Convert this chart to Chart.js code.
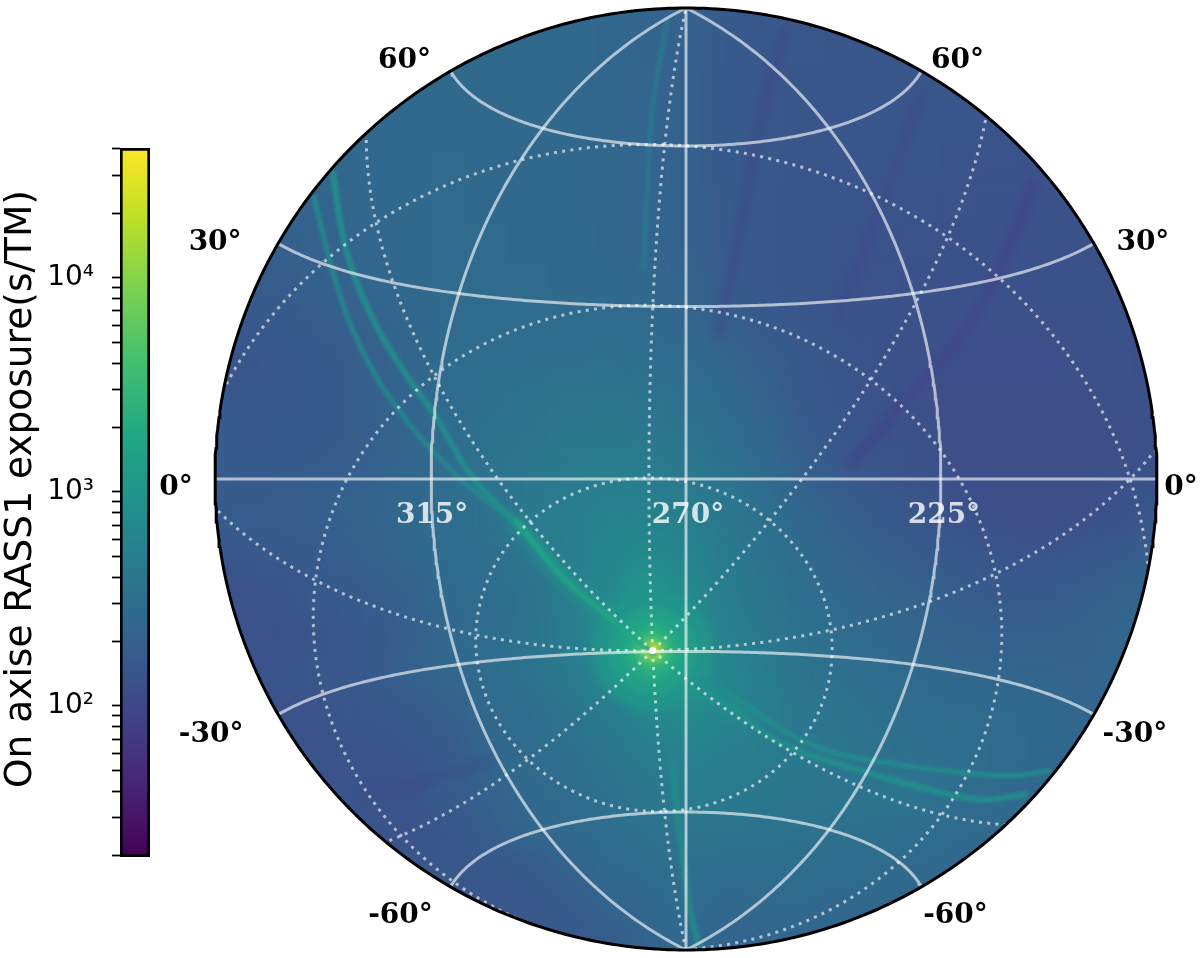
<!DOCTYPE html>
<html>
<head>
<meta charset="utf-8">
<script src="https://cdn.jsdelivr.net/npm/chart.js@4/dist/chart.umd.js"></script>
<style>
  html, body { margin: 0; background: #fff; }
  canvas { position: absolute; left: 0; top: 0; display: block; }
</style>
</head>
<body>
<canvas id="skyMap" width="1200" height="958"></canvas>
<canvas id="colorBar" width="200" height="958"></canvas>
<script>
// colour scale
const viridisStops = ['#440154', '#482475', '#414487', '#355f8d', '#2a788e', '#21918c', '#22a884', '#44bf70', '#7ad151', '#bddf26', '#fde725'];
const exposureMin = 19.7;
const exposureMax = 40400;
const colorBarTicks = [20, 30, 40, 50, 60, 70, 80, 90, 100, 200, 300, 400, 500, 600, 700, 800, 900, 1000, 2000, 3000, 4000, 5000, 6000, 7000, 8000, 9000, 10000, 20000, 30000, 40000];
const colorBarLabels = { 100: '10²', 1000: '10³', 10000: '10⁴' };
const colorBarTitle = 'On axise RASS1 exposure(s/TM)';

// graticule (galactic = solid, ecliptic = dotted), degrees
const galacticLatitudes = [-60, -30, 0, 30, 60];
const galacticLongitudes = [225, 270, 315];
const boundaryLongitudes = [180, 360];
const eclipticLatitudes = [-60, -30, 0];
const eclipticLongitudes = [0, 45, 90, 135, 180, 225, 270, 315];
const southEclipticPole = [276.38, -29.81];
const longitudeLabels = [315, 270, 225];

// exposure (s/TM), 25 x 25 cells, top row first, x and y from -1 to 1
const exposureRows = [
  [265,265,265,265,265,265,265,265,265,265,255,240,210,175,160,155,150,150,150,150,150,150,150,150,150],
  [265,265,265,265,265,265,265,265,265,260,250,235,210,170,158,155,150,150,150,150,150,145,145,145,145],
  [255,255,255,255,255,260,265,265,265,255,245,230,205,170,155,150,150,150,150,150,145,140,140,140,140],
  [245,245,245,250,255,260,265,265,260,255,245,230,205,170,155,150,148,148,148,145,145,140,135,135,135],
  [235,235,235,245,255,265,270,265,260,255,245,230,205,170,155,150,145,145,145,142,138,135,135,135,135],
  [215,215,220,235,255,265,270,265,260,255,245,230,210,175,155,148,145,142,140,135,132,132,132,132,132],
  [195,195,200,220,245,265,275,270,265,260,250,240,215,175,155,147,142,140,135,132,130,130,130,130,130],
  [180,180,190,205,240,265,275,275,270,265,260,245,225,180,155,147,140,135,132,130,130,130,130,130,130],
  [165,165,175,190,215,250,280,290,290,285,280,265,245,200,170,152,140,132,130,128,128,128,128,130,130],
  [150,150,165,175,200,240,285,305,310,320,325,305,280,240,195,160,145,132,128,125,125,125,126,128,130],
  [165,160,165,175,200,235,290,330,350,375,380,365,325,275,220,170,145,135,126,124,124,124,124,126,128],
  [175,165,170,175,200,230,290,350,380,415,435,425,355,305,245,185,150,138,128,124,122,122,122,124,128],
  [180,175,180,190,215,250,300,345,400,460,500,490,430,360,285,215,170,150,135,125,122,122,122,128,140],
  [180,185,195,205,235,265,300,340,420,500,560,570,510,420,330,250,200,170,150,130,122,120,122,130,160],
  [150,155,165,185,215,250,285,320,385,490,620,760,620,440,350,280,230,200,180,160,145,145,155,175,200],
  [135,135,145,165,180,205,260,300,350,470,700,1100,760,480,380,310,260,230,210,190,175,175,190,220,250],
  [135,135,140,155,170,200,255,300,345,450,780,1800,1050,530,410,340,290,260,235,215,205,205,215,240,250],
  [140,140,145,155,170,210,250,290,350,440,650,1150,1150,650,480,360,320,290,260,250,240,240,230,240,240],
  [140,140,140,145,155,170,200,260,300,360,460,640,760,600,480,400,360,330,300,280,270,260,240,230,230],
  [140,140,140,140,138,145,170,240,280,320,380,460,560,520,470,420,380,340,320,300,280,260,250,230,230],
  [140,140,140,140,140,140,180,210,260,280,340,400,470,460,420,400,380,380,370,300,270,250,230,230,230],
  [140,140,140,140,140,140,150,190,240,260,290,340,370,370,360,350,330,320,300,280,260,240,230,230,230],
  [150,150,150,150,150,150,160,160,170,220,260,280,320,290,300,300,290,280,260,250,240,230,230,230,230],
  [150,150,150,150,150,150,150,150,150,170,220,250,290,250,260,260,250,240,240,240,240,240,240,240,240],
  [170,170,170,170,170,170,170,170,170,170,170,220,270,220,230,240,240,240,240,240,240,240,240,240,240]
];

// core around the pole
const peakExposure = [1000, 1400, 2000, 3000, 5000, 10000, 20000, 40000];
const peakSizes = [60, 44, 30, 20, 13, 9, 6, 4];

// thin scan arcs, map units
const arcLeftOuter = [[-0.79,0.60],[-0.75,0.44],[-0.70,0.30],[-0.62,0.16],[-0.49,0.01],[-0.37,-0.09],[-0.27,-0.20]];
const arcLeftInner = [[-0.75,0.65],[-0.72,0.48],[-0.66,0.33],[-0.60,0.23],[-0.53,0.13],[-0.45,0.00],[-0.33,-0.12],[-0.18,-0.28]];
const arcNearPole = [[-0.36,-0.09],[-0.27,-0.20],[-0.18,-0.28],[-0.07,-0.37]];
const arcPoleRight = [[-0.07,-0.37],[0.03,-0.45],[0.13,-0.51]];
const arcRightUpper = [[0.03,-0.42],[0.13,-0.48],[0.20,-0.53],[0.31,-0.58],[0.41,-0.60],[0.55,-0.62],[0.69,-0.63],[0.77,-0.62]];
const arcRightLower = [[0.03,-0.44],[0.09,-0.48],[0.20,-0.56],[0.34,-0.61],[0.48,-0.65],[0.62,-0.68],[0.72,-0.67]];
const arcTop = [[-0.04,0.97],[-0.07,0.80],[-0.08,0.66],[-0.09,0.45]];
const arcTopFaint = [[-0.09,0.45],[-0.10,0.31],[-0.11,0.15]];
const arcBottom = [[-0.03,-0.60],[-0.01,-0.78],[0.01,-0.92],[0.03,-1.0]];
const darkStreak1 = [[0.21,0.95],[0.16,0.77],[0.12,0.56],[0.07,0.31]];
const darkStreak2 = [[0.74,0.63],[0.68,0.48],[0.59,0.31],[0.45,0.15],[0.35,0.03]];
const darkStreak3 = [[0.50,0.82],[0.44,0.65],[0.38,0.49],[0.32,0.34]];
const darkStreak4 = [[-0.68,-0.67],[-0.55,-0.64],[-0.42,-0.60]];

function viridis(value, alpha) {
  const t = Math.min(1, Math.max(0, (Math.log10(value) - Math.log10(exposureMin)) / (Math.log10(exposureMax) - Math.log10(exposureMin))));
  const p = t * (viridisStops.length - 1);
  const i = Math.min(viridisStops.length - 2, Math.floor(p));
  const a = viridisStops[i], b = viridisStops[i + 1];
  const mix = k => {
    const ca = parseInt(a.substr(k, 2), 16), cb = parseInt(b.substr(k, 2), 16);
    return Math.round(ca + (cb - ca) * (p - i));
  };
  return `rgba(${mix(1)},${mix(3)},${mix(5)},${alpha === undefined ? 1 : alpha})`;
}

// Lambert equal-area hemisphere centred on l=270, b=0, rim at radius 1
function vec(lon, lat) {
  const l = lon * Math.PI / 180, b = lat * Math.PI / 180;
  return [Math.cos(b) * Math.cos(l), Math.cos(b) * Math.sin(l), Math.sin(b)];
}
function projectVec(v) {
  const cz = -v[1];
  if (cz < -0.0001) return { x: NaN, y: NaN };
  const k = 1 / Math.sqrt(1 + cz);
  return { x: -v[0] * k, y: v[2] * k };
}
function project(lon, lat) {
  return projectVec(vec(lon, lat));
}

// ecliptic frame: north pole opposite the SEP, north galactic pole at ecliptic longitude 180
const nep = vec(southEclipticPole[0] - 180, -southEclipticPole[1]);
const ngp = [0, 0, 1];
const betaNgp = -southEclipticPole[1] * Math.PI / 180;
const eclA = [0, 1, 2].map(i => (nep[i] * Math.sin(betaNgp) - ngp[i]) / Math.cos(betaNgp));
const eclB = [nep[1] * eclA[2] - nep[2] * eclA[1], nep[2] * eclA[0] - nep[0] * eclA[2], nep[0] * eclA[1] - nep[1] * eclA[0]];
function projectEcliptic(lon, lat) {
  const l = lon * Math.PI / 180, b = lat * Math.PI / 180;
  return projectVec([0, 1, 2].map(i => Math.cos(b) * (Math.cos(l) * eclA[i] + Math.sin(l) * eclB[i]) + Math.sin(b) * nep[i]));
}

function sweep(from, to, fn) {
  const pts = [];
  const n = 240;
  for (let i = 0; i <= n; i++) pts.push(fn(from + (to - from) * i / n));
  return pts;
}
const toPoints = arr => arr.map(p => ({ x: p[0], y: p[1] }));

// datasets, in drawing order
const datasets = [];

const heatCells = [];
exposureRows.forEach((row, r) => row.forEach((v, c) => {
  heatCells.push({ x: -1 + c / 12, y: 1 - r / 12, v: v });
}));
datasets.push({
  label: 'exposure',
  data: heatCells,
  pointStyle: 'rect',
  pointRadius: ctx => (ctx.chart.scales.x.getPixelForValue(1 / 12) - ctx.chart.scales.x.getPixelForValue(0)) / 2 * Math.SQRT2 + 1,
  pointBorderWidth: 0,
  pointBackgroundColor: ctx => viridis(ctx.raw.v),
  blurAfter: 14
});

function addArc(label, points, value, width, alpha) {
  datasets.push({
    label: label,
    data: toPoints(points),
    showLine: true,
    tension: 0.4,
    pointRadius: 0,
    borderWidth: width,
    borderCapStyle: 'round',
    borderColor: viridis(value, alpha)
  });
}
addArc('dark1', darkStreak1, 95, 9, 0.6);
addArc('dark2', darkStreak2, 90, 11, 0.7);
addArc('dark3', darkStreak3, 95, 9, 0.5);
addArc('dark4', darkStreak4, 95, 9, 0.35);
addArc('glow near pole', arcNearPole, 1100, 18, 0.5);
addArc('glow pole right', arcPoleRight, 1000, 16, 0.5);
addArc('arc top faint', arcTopFaint, 380, 6, 0.45);
datasets[datasets.length - 1].blurAfter = 3;

const polePoint = project(southEclipticPole[0], southEclipticPole[1]);
datasets.push({
  label: 'pole',
  data: peakExposure.map(v => ({ x: polePoint.x, y: polePoint.y, v: v })),
  pointRadius: peakSizes,
  pointBorderWidth: 0,
  pointBackgroundColor: ctx => viridis(ctx.raw.v),
  blurAfter: 3
});

addArc('arc top', arcTop, 480, 5, 0.7);
addArc('arc bottom', arcBottom, 750, 7, 0.8);
addArc('arc left outer', arcLeftOuter, 720, 5, 0.9);
addArc('arc left inner', arcLeftInner, 850, 6, 0.9);
addArc('arc near pole', arcNearPole, 1800, 6, 0.8);
addArc('arc right upper', arcRightUpper, 800, 5, 0.9);
addArc('arc right lower', arcRightLower, 850, 6, 0.9);
datasets[datasets.length - 1].blurAfter = 1.5;
datasets[datasets.length - 1].maskAfter = true;

function addLine(label, data, color, width, dash) {
  datasets.push({
    label: label,
    data: data,
    showLine: true,
    spanGaps: false,
    pointRadius: 0,
    borderWidth: width,
    borderColor: color,
    borderDash: dash || []
  });
}
const dottedColor = 'rgba(255,255,255,0.62)';
const solidColor = 'rgba(255,255,255,0.62)';
eclipticLatitudes.forEach(b => addLine('ecl lat ' + b, sweep(0, 360, l => projectEcliptic(l, b)), dottedColor, 3, [3, 5.3]));
eclipticLongitudes.forEach(l => addLine('ecl lon ' + l, sweep(-90, 60, b => projectEcliptic(l, b)), dottedColor, 3, [3, 5.3]));
galacticLatitudes.forEach(b => addLine('gal lat ' + b, sweep(180, 360, l => project(l, b)), solidColor, 3));
galacticLongitudes.forEach(l => addLine('gal lon ' + l, sweep(-90, 90, b => project(l, b)), solidColor, 3));
boundaryLongitudes.forEach(l => addLine('rim ' + l, sweep(-90, 90, b => project(l, b)), '#000', 3));
datasets.push({
  label: 'core',
  data: [polePoint],
  pointRadius: 3.5,
  pointBorderWidth: 0,
  pointBackgroundColor: '#fff'
});
datasets.forEach((d, i) => { d.order = datasets.length - i; });

const mapPlugin = {
  id: 'mapPlugin',
  afterDatasetDraw(chart, args) {
    const d = chart.data.datasets[args.index];
    const ctx = chart.ctx;
    if (d.blurAfter) {
      ctx.save();
      ctx.filter = `blur(${d.blurAfter}px)`;
      ctx.drawImage(chart.canvas, 0, 0);
      ctx.restore();
    }
    if (d.maskAfter) {
      const { x, y } = chart.scales;
      const cx = x.getPixelForValue(0), cy = y.getPixelForValue(0);
      const r = x.getPixelForValue(1) - cx;
      ctx.save();
      ctx.fillStyle = '#fff';
      ctx.beginPath();
      ctx.rect(0, 0, chart.width, chart.height);
      ctx.arc(cx, cy, r, 0, Math.PI * 2);
      ctx.fill('evenodd');
      ctx.restore();
    }
  },
  afterDraw(chart) {
    const ctx = chart.ctx;
    const { x, y } = chart.scales;
    const sideLabels = [[60, -46, -10, 36, -10], [30, -63, -1, 49, -1], [0, -39, 9, 24, 9], [-30, -67, 20, 41, 20], [-60, -50, 29, 34, 29]];
    ctx.save();
    ctx.font = 'bold 28px "DejaVu Serif"';
    ctx.textAlign = 'center';
    ctx.textBaseline = 'middle';
    ctx.fillStyle = '#000';
    sideLabels.forEach(s => {
      const left = project(360, s[0]), right = project(180, s[0]);
      ctx.fillText(s[0] + '°', x.getPixelForValue(left.x) + s[1], y.getPixelForValue(left.y) + s[2]);
      ctx.fillText(s[0] + '°', x.getPixelForValue(right.x) + s[3], y.getPixelForValue(right.y) + s[4]);
    });
    ctx.fillStyle = 'rgba(255,255,255,0.8)';
    const lonOffsets = [1, 2, 3];
    longitudeLabels.forEach((l, i) => {
      const p = project(l, 0);
      ctx.fillText(l + '°', x.getPixelForValue(p.x) + lonOffsets[i], y.getPixelForValue(p.y) + 37);
    });
    ctx.restore();
  }
};

const barTitlePlugin = {
  id: 'barTitle',
  afterDraw(chart) {
    const ctx = chart.ctx;
    ctx.save();
    ctx.translate(21, 489);
    ctx.rotate(-Math.PI / 2);
    ctx.font = '37.5px "DejaVu Sans"';
    ctx.textAlign = 'center';
    ctx.textBaseline = 'middle';
    ctx.fillStyle = '#000';
    ctx.fillText(colorBarTitle, 0, 0);
    ctx.restore();
  }
};

new Chart(document.getElementById('skyMap'), {
  type: 'scatter',
  data: { datasets: datasets },
  options: {
    responsive: false,
    animation: false,
    layout: { autoPadding: false, padding: { left: 207, right: 35, top: 0, bottom: 0 } },
    plugins: { legend: { display: false }, tooltip: { enabled: false } },
    scales: {
      x: { type: 'linear', display: false, min: -1.017, max: 1.017 },
      y: { type: 'linear', display: false, min: -1.017, max: 1.017 }
    }
  },
  plugins: [mapPlugin]
});

new Chart(document.getElementById('colorBar'), {
  type: 'bar',
  data: {
    labels: [''],
    datasets: [{
      data: [[exposureMin, exposureMax]],
      barPercentage: 1,
      categoryPercentage: 1,
      borderColor: '#000',
      borderWidth: 3,
      borderSkipped: false,
      backgroundColor: ctx => {
        const area = ctx.chart.chartArea;
        if (!area) return viridisStops[0];
        const g = ctx.chart.ctx.createLinearGradient(0, area.bottom, 0, area.top);
        viridisStops.forEach((c, i) => g.addColorStop(i / (viridisStops.length - 1), c));
        return g;
      }
    }]
  },
  options: {
    responsive: false,
    animation: false,
    layout: { padding: { left: 0, right: 50, top: 148, bottom: 101 } },
    plugins: { legend: { display: false }, tooltip: { enabled: false } },
    scales: {
      x: { display: false },
      y: {
        type: 'logarithmic',
        min: exposureMin,
        max: exposureMax,
        afterFit: scale => { scale.width = 120; },
        afterBuildTicks: scale => { scale.ticks = colorBarTicks.map(v => ({ value: v })); },
        afterTickToLabelConversion: scale => { scale.ticks.forEach(t => { t.label = colorBarLabels[t.value] || ''; }); },
        border: { display: false },
        grid: { drawOnChartArea: false, drawTicks: true, tickLength: 8, tickColor: '#000', tickWidth: 1.8 },
        ticks: { autoSkip: false, maxRotation: 0, padding: 18, color: '#000', font: { family: 'DejaVu Sans', size: 28 } }
      }
    }
  },
  plugins: [barTitlePlugin]
});
</script>
</body>
</html>
